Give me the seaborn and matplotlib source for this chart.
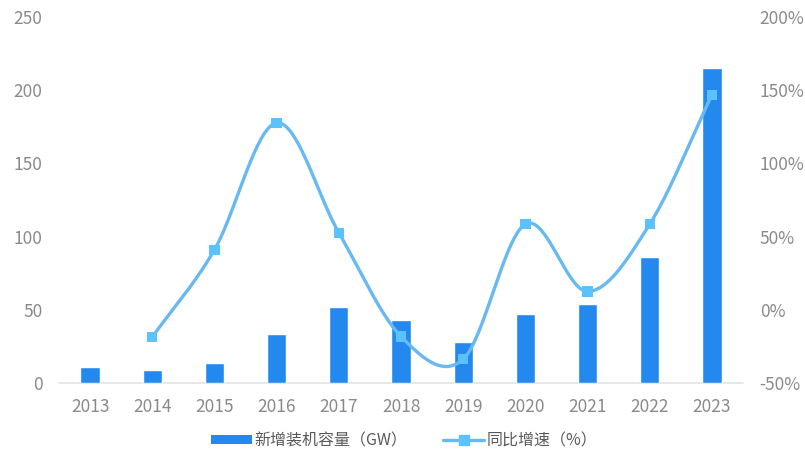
import numpy as np
import pandas as pd
import matplotlib
matplotlib.use("Agg")
import matplotlib.pyplot as plt
import seaborn as sns
from matplotlib.patches import Patch
from matplotlib.lines import Line2D

# ---- data ----
years = ["2013", "2014", "2015", "2016", "2017", "2018", "2019", "2020", "2021", "2022", "2023"]
capacity_gw = [10.6, 8.9, 13.9, 33.2, 51.7, 42.8, 28.2, 46.9, 53.7, 85.8, 215.0]
growth_years = ["2014", "2015", "2016", "2017", "2018", "2019", "2020", "2021", "2022", "2023"]
growth_pct = [-18.6, 41.0, 127.7, 52.6, -18.2, -33.7, 58.5, 12.5, 58.5, 146.9]
left_ticks = [0, 50, 100, 150, 200, 250]
right_ticks = [-50, 0, 50, 100, 150, 200]
bar_label = "新增装机容量（GW）"
line_label = "同比增速（%）"

BAR_C = "#2389ee"
LINE_C = "#68b9f2"
MARK_C = "#5cc1ff"
TXT_C = "#8a8a8a"

sns.set_theme(style="white")
plt.rcParams["font.family"] = ["Noto Sans CJK SC", "DejaVu Sans"]

fig = plt.figure(figsize=(8.05, 4.59), dpi=100)
ax = fig.add_axes([0.0733, 0.1656, 0.8497, 0.7974])

df = pd.DataFrame({"year": years, "cap": capacity_gw})
sns.barplot(data=df, x="year", y="cap", color=BAR_C, saturation=1, width=0.31, ax=ax, order=years)
ax.set_xlim(-0.5, len(years) - 0.5)
ax.set_ylim(left_ticks[0], left_ticks[-1])
ax.set_yticks(left_ticks)
ax.set_xlabel("")
ax.set_ylabel("")
for s in ax.spines.values():
    s.set_visible(False)
ax.axhline(0, color="#e3e3e3", lw=1.2, zorder=0, clip_on=False)
ax.tick_params(axis="both", length=0, colors=TXT_C, labelsize=12.5)
ax.tick_params(axis="y", pad=12)
ax.tick_params(axis="x", pad=11)

ax2 = ax.twinx()
ax2.set_ylim(right_ticks[0], right_ticks[-1])
ax2.set_yticks(right_ticks)
ax2.set_yticklabels([f"{t}%" for t in right_ticks])
ax2.tick_params(axis="y", length=0, colors=TXT_C, labelsize=12.5, pad=12)
for s in ax2.spines.values():
    s.set_visible(False)
ax2.grid(False)
ax.grid(False)

# smooth curve (Catmull-Rom) through the growth points, for drawing only
xp = np.array([years.index(y) for y in growth_years], dtype=float)
yp = np.array(growth_pct, dtype=float)
P = np.column_stack([xp, yp])
Pext = np.vstack([2 * P[0] - P[1], P, 2 * P[-1] - P[-2]])
curve = []
t = np.linspace(0, 1, 40)[:, None]
for i in range(1, len(Pext) - 2):
    p0, p1, p2, p3 = Pext[i - 1], Pext[i], Pext[i + 1], Pext[i + 2]
    seg = 0.5 * ((2 * p1) + (-p0 + p2) * t + (2 * p0 - 5 * p1 + 4 * p2 - p3) * t ** 2
                 + (-p0 + 3 * p1 - 3 * p2 + p3) * t ** 3)
    curve.append(seg)
curve = np.vstack(curve)
ax2.plot(curve[:, 0], curve[:, 1], color=LINE_C, lw=2.4, zorder=3, solid_capstyle="round")
sns.scatterplot(x=xp, y=yp, marker="s", s=55, color=MARK_C, edgecolor="none", ax=ax2, zorder=4)

handles = [
    Patch(facecolor=BAR_C, edgecolor="none", label=bar_label),
    Line2D([0], [0], color=LINE_C, lw=2.4, marker="s", markersize=6.5,
           markerfacecolor=MARK_C, markeredgecolor=MARK_C, label=line_label),
]
leg = fig.legend(handles=handles, loc="center", bbox_to_anchor=(0.502, 0.040), ncol=2,
                 frameon=False, fontsize=11.5, handlelength=2.6, handleheight=0.55,
                 handletextpad=0.15, columnspacing=2.2)
for txt in leg.get_texts():
    txt.set_color("#5a5a5a")

fig.savefig("out.png", dpi=100, facecolor="white")
